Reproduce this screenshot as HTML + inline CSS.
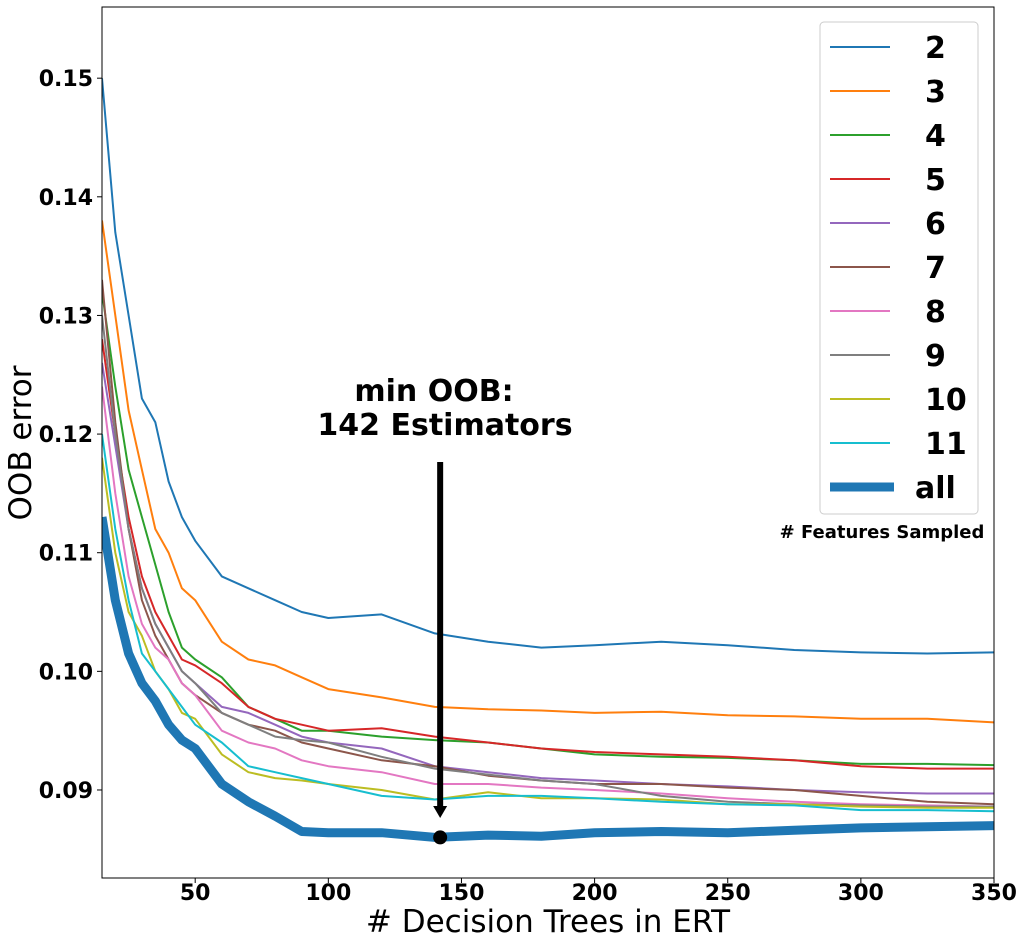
<!DOCTYPE html>
<html><head><meta charset="utf-8"><style>
body{margin:0;background:#fff}
svg text{font-family:"DejaVu Sans","Liberation Sans",sans-serif}
</style></head><body>
<svg id="chart" width="1024" height="944" xmlns="http://www.w3.org/2000/svg">
<rect x="0" y="0" width="1024" height="944" fill="#fff"/>
<g id="plot"></g>
</svg>
<script>
const xs=[15,20,25,30,35,40,45,50,60,70,80,90,100,120,140,160,180,200,225,250,275,300,325,350];
const seriesNames=["2","3","4","5","6","7","8","9","10","11","all"];
const colors=["#1f77b4","#ff7f0e","#2ca02c","#d62728","#9467bd","#8c564b","#e377c2","#7f7f7f","#bcbd22","#17becf","#1f77b4"];
const s2=[0.150,0.137,0.130,0.123,0.121,0.116,0.113,0.111,0.108,0.107,0.106,0.105,0.1045,0.1048,0.1032,0.1025,0.102,0.1022,0.1025,0.1022,0.1018,0.1016,0.1015,0.1016];
const s3=[0.138,0.130,0.122,0.117,0.112,0.110,0.107,0.106,0.1025,0.101,0.1005,0.0995,0.0985,0.0978,0.097,0.0968,0.0967,0.0965,0.0966,0.0963,0.0962,0.096,0.096,0.0957];
const s4=[0.132,0.124,0.117,0.113,0.109,0.105,0.102,0.101,0.0995,0.097,0.096,0.095,0.095,0.0945,0.0942,0.094,0.0935,0.093,0.0928,0.0927,0.0925,0.0922,0.0922,0.0921];
const s5=[0.128,0.120,0.113,0.108,0.105,0.103,0.101,0.1005,0.099,0.097,0.096,0.0955,0.095,0.0952,0.0945,0.094,0.0935,0.0932,0.093,0.0928,0.0925,0.092,0.0918,0.0918];
const s6=[0.126,0.119,0.112,0.107,0.104,0.102,0.100,0.099,0.097,0.0965,0.0955,0.0945,0.094,0.0935,0.092,0.0915,0.091,0.0908,0.0905,0.0903,0.090,0.0898,0.0897,0.0897];
const s7=[0.133,0.121,0.112,0.106,0.103,0.101,0.099,0.098,0.0965,0.0955,0.095,0.094,0.0935,0.0925,0.092,0.0912,0.0908,0.0905,0.0905,0.0902,0.090,0.0895,0.089,0.0888];
const s8=[0.124,0.115,0.108,0.104,0.102,0.101,0.099,0.098,0.095,0.094,0.0935,0.0925,0.092,0.0915,0.0905,0.0905,0.0902,0.090,0.0897,0.0893,0.089,0.0888,0.0887,0.0886];
const s9=[0.130,0.120,0.112,0.107,0.104,0.102,0.100,0.099,0.0965,0.0955,0.0945,0.0942,0.094,0.0928,0.0918,0.0913,0.0908,0.0905,0.0895,0.089,0.0888,0.0887,0.0886,0.0886];
const s10=[0.118,0.110,0.105,0.103,0.100,0.0985,0.0965,0.096,0.093,0.0915,0.091,0.0908,0.0905,0.090,0.0892,0.0898,0.0893,0.0893,0.0892,0.0888,0.0888,0.0886,0.0885,0.0885];
const s11=[0.120,0.112,0.106,0.1015,0.100,0.0985,0.097,0.0955,0.094,0.092,0.0915,0.091,0.0905,0.0895,0.0892,0.0895,0.0895,0.0893,0.089,0.0888,0.0887,0.0883,0.0883,0.0882];
const sAll=[0.113,0.106,0.1015,0.099,0.0975,0.0955,0.0942,0.0935,0.0905,0.089,0.0878,0.0865,0.0864,0.0864,0.086,0.0862,0.0861,0.0864,0.0865,0.0864,0.0866,0.0868,0.0869,0.087];
const allSeries=[s2,s3,s4,s5,s6,s7,s8,s9,s10,s11,sAll];
const xTicks=[50,100,150,200,250,300,350];
const yTicks=[0.09,0.10,0.11,0.12,0.13,0.14,0.15];
const minX=142, minY=0.086;

const L=102,R=994,T=7,B=878,X0=15,X1=350,Y0=0.08258,Y1=0.156;
const sx=v=>L+(v-X0)/(X1-X0)*(R-L);
const sy=v=>B-(v-Y0)/(Y1-Y0)*(B-T);
const NS="http://www.w3.org/2000/svg";
const g=document.getElementById('plot');
function mk(t,a,p){const e=document.createElementNS(NS,t);for(const k in a)e.setAttribute(k,a[k]);(p||g).appendChild(e);return e;}
const clip=mk('clipPath',{id:'cp'});mk('rect',{x:L,y:T,width:R-L,height:B-T},clip);
allSeries.forEach((s,i)=>{
  const d=s.map((v,j)=>(j?'L':'M')+sx(xs[j]).toFixed(1)+','+sy(v).toFixed(1)).join('');
  const p=mk('path',{d:d,fill:'none',stroke:colors[i],'stroke-width':i==10?9:2,'stroke-linejoin':'round','clip-path':'url(#cp)'});
  
  
});
const fr=mk('rect',{x:L,y:T,width:R-L,height:B-T,fill:'none',stroke:'#000','stroke-width':1});


xTicks.forEach(v=>{
  mk('line',{x1:sx(v),x2:sx(v),y1:B,y2:B+5,stroke:'#000'});
  const t=mk('text',{x:sx(v),y:B+22,'text-anchor':'middle','font-size':22,'font-weight':'bold'});t.textContent=v;
  
  
});
yTicks.forEach(v=>{
  mk('line',{x1:L-5,x2:L,y1:sy(v),y2:sy(v),stroke:'#000'});
  const t=mk('text',{x:L-9,y:sy(v)+8,'text-anchor':'end','font-size':22,'font-weight':'bold'});t.textContent=v.toFixed(2);
  
  
});
const ax=sx(minX);
const ar=mk('line',{x1:ax,x2:ax,y1:462,y2:806,stroke:'#000','stroke-width':6});


mk('polygon',{points:`${ax-7},806 ${ax+7},806 ${ax},818`,fill:'#000'});
const dot=mk('circle',{cx:ax,cy:sy(minY),r:7,fill:'#000'});


</script>
<svg style="position:absolute;left:0;top:0" width="1024" height="944">
<text x="434" y="401" text-anchor="middle" font-size="30" font-weight="bold">min OOB:</text>
<text x="445" y="435" text-anchor="middle" font-size="30" font-weight="bold">142 Estimators</text>
<text x="548" y="932" text-anchor="middle" font-size="31"># Decision Trees in ERT</text>
<text transform="translate(31,443) rotate(-90)" text-anchor="middle" font-size="31">OOB error</text>
<g font-size="30" font-weight="bold">
<rect x="820" y="22" width="158" height="492" rx="4" fill="#fff" stroke="#ccc"/>
<line x1="830" x2="890" y1="47" y2="47" stroke="#1f77b4" stroke-width="2"/><text x="925" y="58">2</text>
<line x1="830" x2="890" y1="91" y2="91" stroke="#ff7f0e" stroke-width="2"/><text x="925" y="102">3</text>
<line x1="830" x2="890" y1="135" y2="135" stroke="#2ca02c" stroke-width="2"/><text x="925" y="146">4</text>
<line x1="830" x2="890" y1="179" y2="179" stroke="#d62728" stroke-width="2"/><text x="925" y="190">5</text>
<line x1="830" x2="890" y1="223" y2="223" stroke="#9467bd" stroke-width="2"/><text x="925" y="234">6</text>
<line x1="830" x2="890" y1="267" y2="267" stroke="#8c564b" stroke-width="2"/><text x="925" y="278">7</text>
<line x1="830" x2="890" y1="311" y2="311" stroke="#e377c2" stroke-width="2"/><text x="925" y="322">8</text>
<line x1="830" x2="890" y1="355" y2="355" stroke="#7f7f7f" stroke-width="2"/><text x="925" y="366">9</text>
<line x1="830" x2="890" y1="399" y2="399" stroke="#bcbd22" stroke-width="2"/><text x="925" y="410">10</text>
<line x1="830" x2="890" y1="443" y2="443" stroke="#17becf" stroke-width="2"/><text x="925" y="454">11</text>
<line x1="830" x2="894" y1="487" y2="487" stroke="#1f77b4" stroke-width="9"/><text x="915" y="498">all</text>
</g>
<text x="882" y="538" text-anchor="middle" font-size="18" font-weight="bold"># Features Sampled</text>
</svg>
</body></html>
